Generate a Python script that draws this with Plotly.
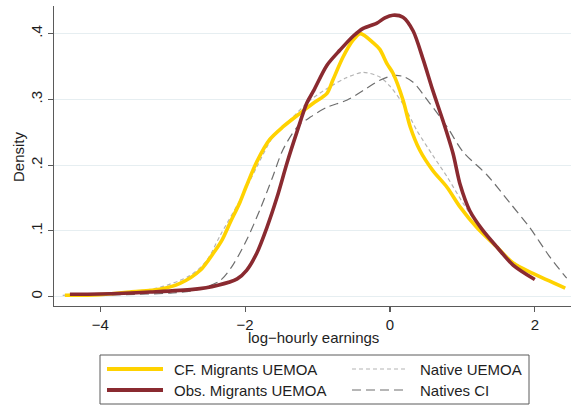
import plotly.graph_objects as go

# ---- data ----
cf_x = [-4.49, -4.01, -3.59, -3.18, -2.90, -2.62, -2.44, -2.32, -2.21, -2.07, -1.98, -1.84, -1.66,
        -1.48, -1.24, -1.06, -0.87, -0.79, -0.65, -0.51, -0.41, -0.23, -0.14, -0.04, 0.04, 0.18,
        0.28, 0.41, 0.59, 0.79, 0.97, 1.20, 1.48, 1.70, 1.98, 2.42]
cf_y = [0.002, 0.003, 0.007, 0.011, 0.020, 0.040, 0.066, 0.086, 0.112, 0.144, 0.169, 0.205, 0.239,
        0.258, 0.279, 0.294, 0.309, 0.329, 0.364, 0.390, 0.400, 0.386, 0.376, 0.354, 0.340, 0.299,
        0.258, 0.223, 0.192, 0.166, 0.136, 0.105, 0.075, 0.051, 0.035, 0.013]

obs_x = [-4.42, -4.01, -3.31, -2.72, -2.39, -2.11, -1.98, -1.84, -1.70, -1.56, -1.42, -1.28, -1.15,
         -1.06, -0.87, -0.69, -0.51, -0.37, -0.18, -0.07, 0.04, 0.18, 0.32, 0.46, 0.59, 0.73, 0.87,
         0.97, 1.10, 1.28, 1.48, 1.70, 2.00]
obs_y = [0.0035, 0.004, 0.007, 0.011, 0.017, 0.027, 0.040, 0.066, 0.105, 0.151, 0.204, 0.252, 0.294,
         0.312, 0.352, 0.375, 0.396, 0.408, 0.416, 0.424, 0.428, 0.425, 0.404, 0.360, 0.314, 0.268,
         0.218, 0.170, 0.131, 0.101, 0.075, 0.048, 0.026]

nat_x = [-4.52, -4.01, -3.22, -2.76, -2.53, -2.35, -2.07, -1.84, -1.62, -1.34, -1.10, -0.83, -0.62,
         -0.37, -0.14, 0.00, 0.18, 0.37, 0.59, 0.79, 1.01, 1.24, 1.52, 1.84, 2.42]
nat_y = [0.002, 0.004, 0.013, 0.032, 0.055, 0.092, 0.147, 0.197, 0.242, 0.273, 0.299, 0.319, 0.332,
         0.341, 0.334, 0.320, 0.293, 0.253, 0.215, 0.182, 0.142, 0.105, 0.069, 0.043, 0.013]

ci_x = [-4.42, -4.01, -3.00, -2.67, -2.35, -2.17, -1.98, -1.80, -1.62, -1.48, -1.28, -1.10, -0.87,
        -0.59, -0.32, -0.14, 0.04, 0.18, 0.32, 0.55, 0.79, 1.01, 1.34, 1.66, 1.93, 2.21, 2.44]
ci_y = [0.0005, 0.002, 0.0055, 0.010, 0.024, 0.048, 0.086, 0.131, 0.182, 0.223, 0.258, 0.273, 0.288,
        0.299, 0.317, 0.329, 0.336, 0.335, 0.326, 0.294, 0.258, 0.220, 0.185, 0.142, 0.105, 0.060,
        0.028]

series_names = ["CF. Migrants UEMOA", "Obs. Migrants UEMOA", "Native UEMOA", "Natives CI"]
y_ticks = [0, 0.1, 0.2, 0.3, 0.4]
y_tick_labels = ["0", ".1", ".2", ".3", ".4"]
x_ticks = [-4, -2, 0, 2]
x_tick_labels = ["\u22124", "\u22122", "0", "2"]

# ---- styles ----
YELLOW = "#FFD200"
MAROON = "#8A2A30"
LGRAY = "#B4B4B4"
DGRAY = "#6E6E6E"
AXIS = "#5A5A5A"
FONT = "Liberation Sans, Arial, sans-serif"
TXT = "#1E1E1E"

W, H = 571, 407
ML, MR, MT, MB = 54, 0, 6, 101

fig = go.Figure()
fig.add_trace(go.Scatter(x=nat_x, y=nat_y, mode="lines", name=series_names[2],
                         line=dict(color=LGRAY, width=1.2, dash="4px,3px", shape="spline", smoothing=0.8)))
fig.add_trace(go.Scatter(x=ci_x, y=ci_y, mode="lines", name=series_names[3],
                         line=dict(color=DGRAY, width=1.2, dash="9px,5px", shape="spline", smoothing=0.8)))
fig.add_trace(go.Scatter(x=cf_x, y=cf_y, mode="lines", name=series_names[0],
                         line=dict(color=YELLOW, width=3.6, shape="spline", smoothing=0.8)))
fig.add_trace(go.Scatter(x=obs_x, y=obs_y, mode="lines", name=series_names[1],
                         line=dict(color=MAROON, width=3.6, shape="spline", smoothing=0.8)))

pw = W - ML - MR
ph = H - MT - MB


def px_x(px):
    return (px - ML) / pw


def px_y(py):
    return (H - MB - py) / ph


# manual legend (Stata style)
shapes = [dict(type="rect", xref="paper", yref="paper",
               x0=px_x(100), x1=px_x(529), y0=px_y(404), y1=px_y(355),
               line=dict(color=AXIS, width=1), fillcolor="white")]
legend_items = [
    (series_names[0], YELLOW, 4, "solid", 107, 163, 172, 369),
    (series_names[1], MAROON, 4, "solid", 107, 163, 172, 390),
    (series_names[2], LGRAY, 1.2, "4px,3px", 352, 407, 418, 369),
    (series_names[3], DGRAY, 1.2, "9px,5px", 352, 407, 418, 390),
]
annotations = []
for name, col, wd, dash, lx0, lx1, tx, ty in legend_items:
    shapes.append(dict(type="line", xref="paper", yref="paper",
                       x0=px_x(lx0), x1=px_x(lx1), y0=px_y(ty), y1=px_y(ty),
                       line=dict(color=col, width=wd, dash=dash)))
    annotations.append(dict(text=name, xref="paper", yref="paper", x=px_x(tx), y=px_y(ty),
                            xanchor="left", yanchor="middle", showarrow=False,
                            font=dict(family=FONT, size=15, color=TXT)))

annotations.append(dict(text="log\u2212hourly earnings", xref="paper", yref="paper",
                        x=px_x(313), y=px_y(337), xanchor="center", yanchor="middle",
                        showarrow=False, font=dict(family=FONT, size=15, color=TXT)))
annotations.append(dict(text="Density", xref="paper", yref="paper",
                        x=px_x(18), y=px_y(157), xanchor="center", yanchor="middle",
                        textangle=-90, showarrow=False, font=dict(family=FONT, size=15, color=TXT)))

fig.update_layout(
    width=W, height=H,
    margin=dict(l=ML, r=MR, t=MT, b=MB, autoexpand=False),
    paper_bgcolor="white", plot_bgcolor="white",
    showlegend=False,
    shapes=shapes, annotations=annotations,
    font=dict(family=FONT, size=15, color=TXT),
)
fig.update_xaxes(range=[-4.64, 2.50], tickvals=x_ticks, ticktext=x_tick_labels,
                 showline=True, linecolor=AXIS, linewidth=1.2, ticks="outside", ticklen=5,
                 tickcolor=AXIS, tickwidth=1.2, showgrid=False, zeroline=False, automargin=False,
                 tickfont=dict(family=FONT, size=15, color=TXT))
fig.update_yaxes(range=[-0.0143, 0.442], tickvals=y_ticks, ticktext=y_tick_labels,
                 showline=True, linecolor=AXIS, linewidth=1.2, ticks="outside", ticklen=5,
                 tickcolor=AXIS, tickwidth=1.2, showgrid=True, gridcolor="#E6EEF1", gridwidth=1,
                 zeroline=False, tickangle=-90, automargin=False,
                 tickfont=dict(family=FONT, size=15, color=TXT))

fig.write_html("out.html", config={"displayModeBar": False, "staticPlot": True},
               post_script="document.body.style.margin='0';document.body.style.overflow='hidden';")
